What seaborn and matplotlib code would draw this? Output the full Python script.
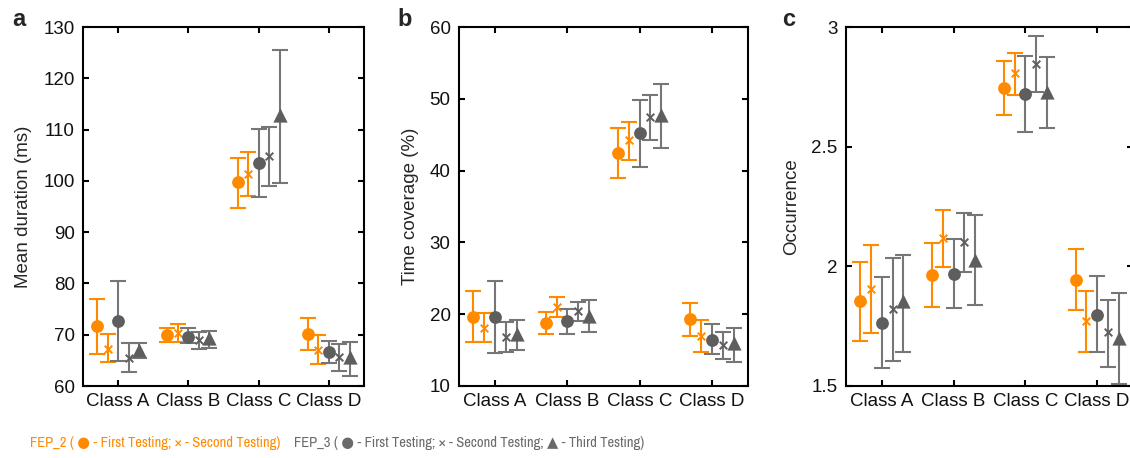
import numpy as np
import pandas as pd
import matplotlib
matplotlib.use("Agg")
import matplotlib.pyplot as plt
import seaborn as sns
from matplotlib import font_manager

# ---------------- data ----------------
classes = ["Class A", "Class B", "Class C", "Class D"]
series_names = ["FEP_2 First", "FEP_2 Second", "FEP_3 First", "FEP_3 Second", "FEP_3 Third"]

# Panel a: mean duration (ms)
dur_mean = [[71.7, 70.0, 99.7, 70.1],
            [67.3, 70.3, 101.4, 67.0],
            [72.7, 69.6, 103.5, 66.6],
            [65.4, 69.0, 104.8, 65.7],
            [67.0, 69.3, 112.9, 65.7]]
dur_low = [[66.2, 68.5, 94.8, 67.0],
           [64.7, 68.6, 97.0, 64.2],
           [64.9, 68.3, 96.9, 64.4],
           [62.7, 67.2, 98.9, 63.0],
           [65.4, 67.5, 99.6, 62.0]]
dur_high = [[77.0, 71.3, 104.5, 73.2],
            [70.1, 72.1, 105.7, 69.9],
            [80.4, 71.4, 110.2, 68.8],
            [68.3, 70.6, 110.5, 68.1],
            [68.4, 70.7, 125.6, 68.5]]

# Panel b: time coverage (%)
cov_mean = [[19.6, 18.8, 42.5, 19.4],
            [18.1, 21.0, 44.2, 17.0],
            [19.6, 19.0, 45.2, 16.4],
            [16.8, 20.4, 47.4, 15.7],
            [17.2, 19.8, 47.7, 16.0]]
cov_low = [[16.1, 17.2, 39.0, 17.0],
           [16.1, 19.6, 41.5, 14.8],
           [14.6, 17.3, 40.5, 14.4],
           [14.7, 19.0, 44.2, 13.8],
           [15.0, 17.5, 43.2, 13.4]]
cov_high = [[23.2, 20.3, 45.9, 21.6],
            [20.2, 22.4, 46.7, 19.2],
            [24.6, 20.7, 49.9, 18.6],
            [18.9, 21.7, 50.5, 17.5],
            [19.2, 22.0, 52.0, 18.1]]

# Panel c: occurrence
occ_mean = [[1.854, 1.965, 2.744, 1.944],
            [1.905, 2.119, 2.807, 1.770],
            [1.763, 1.968, 2.718, 1.798],
            [1.821, 2.101, 2.846, 1.724],
            [1.854, 2.028, 2.727, 1.700]]
occ_low = [[1.690, 1.830, 2.631, 1.816],
           [1.721, 1.998, 2.716, 1.644],
           [1.574, 1.826, 2.562, 1.640],
           [1.606, 1.975, 2.727, 1.581],
           [1.644, 1.837, 2.579, 1.510]]
occ_high = [[2.017, 2.098, 2.857, 2.072],
            [2.091, 2.235, 2.891, 1.896],
            [1.954, 2.115, 2.877, 1.958],
            [2.035, 2.224, 2.961, 1.861],
            [2.049, 2.214, 2.873, 1.889]]

ylabels = ["Mean duration (ms)", "Time coverage (%)", "Occurrence"]
panel_letters = ["a", "b", "c"]
ylims = [(60, 130), (10, 60), (1.5, 3)]
yticks = [[60, 70, 80, 90, 100, 110, 120, 130],
          [10, 20, 30, 40, 50, 60],
          [1.5, 2, 2.5, 3]]
ytick_labels = [["60", "70", "80", "90", "100", "110", "120", "130"],
                ["10", "20", "30", "40", "50", "60"],
                ["1.5", "2", "2.5", "3"]]

legend_fep2 = "FEP_2 ( \u25CF - First Testing; \u00D7 - Second Testing)"
legend_fep3 = "FEP_3 ( \u25CF - First Testing; \u00D7 - Second Testing; \u25B2 - Third Testing)"

# ---------------- style ----------------
ORANGE = "#FF8A00"
GRAY_M = "#5E5E5E"
GRAY_E = "#767676"

offsets = [-0.30, -0.15, 0.0, 0.15, 0.30]
markers = ["o", "x", "o", "x", "^"]
mcolors = [ORANGE, ORANGE, GRAY_M, GRAY_M, GRAY_M]
ecolors = [ORANGE, ORANGE, GRAY_E, GRAY_E, GRAY_E]
msizes = [85, 30, 85, 30, 105]

sns.set_style("ticks")
fonts = font_manager.fontManager.ttflist
names = {f.name for f in fonts}
base = "Liberation Sans" if "Liberation Sans" in names else "DejaVu Sans"

# look for a condensed / narrow face for the bottom legend texts
narrow_family, narrow_stretch, found = base, "normal", False
for f in fonts:
    if "Narrow" in f.name or "Condensed" in f.name:
        narrow_family, narrow_stretch, found = f.name, "normal", True
        break
else:
    for f in fonts:
        if str(f.stretch) in ("condensed", "semi-condensed", "extra-condensed"):
            narrow_family, narrow_stretch, found = f.name, f.stretch, True
            break

plt.rcParams["font.family"] = [base, "DejaVu Sans"]
plt.rcParams["axes.linewidth"] = 1.5
plt.rcParams["axes.edgecolor"] = "black"

fig = plt.figure(figsize=(11.3, 4.58), dpi=100)
H = 458.0
W = 1130.0
ax_px = [(83, 281), (459, 289), (846, 287)]
top_px, bot_px = 27, 386

panels = [(dur_mean, dur_low, dur_high), (cov_mean, cov_low, cov_high), (occ_mean, occ_low, occ_high)]

for p, ((means, lows, highs), (lpx, wpx)) in enumerate(zip(panels, ax_px)):
    ax = fig.add_axes([lpx / W, (H - bot_px) / H, wpx / W, (bot_px - top_px) / H])
    rows = []
    for s, name in enumerate(series_names):
        for c, cl in enumerate(classes):
            rows.append(dict(series=name, cls=cl, ci=c, si=s,
                             mean=means[s][c], low=lows[s][c], high=highs[s][c]))
    df = pd.DataFrame(rows)
    df["x"] = df["ci"] + 1 + df["si"].map(lambda i: offsets[i])
    for s, name in enumerate(series_names):
        d = df[df["series"] == name]
        ax.errorbar(d["x"], d["mean"], yerr=[d["mean"] - d["low"], d["high"] - d["mean"]],
                    fmt="none", ecolor=ecolors[s], elinewidth=1.5, capsize=5.5,
                    capthick=1.5, zorder=2, clip_on=True)
    for s, name in enumerate(series_names):
        d = df[df["series"] == name]
        if markers[s] == "x":
            sns.scatterplot(data=d, x="x", y="mean", marker="x", color=mcolors[s],
                            s=msizes[s], linewidth=1.4, ax=ax, zorder=3, legend=False)
        else:
            sns.scatterplot(data=d, x="x", y="mean", marker=markers[s], color=mcolors[s],
                            s=msizes[s], linewidth=0, edgecolor=mcolors[s], ax=ax,
                            zorder=3, legend=False)
    ax.set_xlim(0.5, 4.5)
    ax.set_ylim(*ylims[p])
    ax.set_xticks([1, 2, 3, 4])
    ax.set_xticklabels(classes, fontsize=13.5)
    ax.set_yticks(yticks[p])
    ax.set_yticklabels(ytick_labels[p], fontsize=13.5)
    ax.set_xlabel("")
    ax.set_ylabel(ylabels[p], fontsize=13.5, labelpad=8)
    ax.tick_params(axis="both", direction="in", length=4, width=1.5,
                   top=True, right=True, colors="black", labelcolor="#111111")
    ax.tick_params(axis="x", pad=5)
    ax.tick_params(axis="y", pad=6)
    for sp in ax.spines.values():
        sp.set_visible(True)
        sp.set_linewidth(1.5)

for letter, xp in zip(panel_letters, [12, 397, 782]):
    fig.text(xp / W, (H - 20) / H, letter, fontsize=17, fontweight="bold",
             ha="left", va="center")

# bottom legend texts
ly = (H - 443) / H
fs = 10.5 if found else 9.5
t2 = fig.text(30 / W, ly, legend_fep2, color=ORANGE, fontsize=fs,
              family=[narrow_family, "DejaVu Sans"], stretch=narrow_stretch,
              ha="left", va="center")
renderer = fig.canvas.get_renderer()
w2 = t2.get_window_extent(renderer).width
t3 = fig.text((30 + w2 + 14) / W, ly, legend_fep3, color="#6A6A6A", fontsize=fs,
              family=[narrow_family, "DejaVu Sans"], stretch=narrow_stretch,
              ha="left", va="center")

fig.savefig("out.png", dpi=100)
